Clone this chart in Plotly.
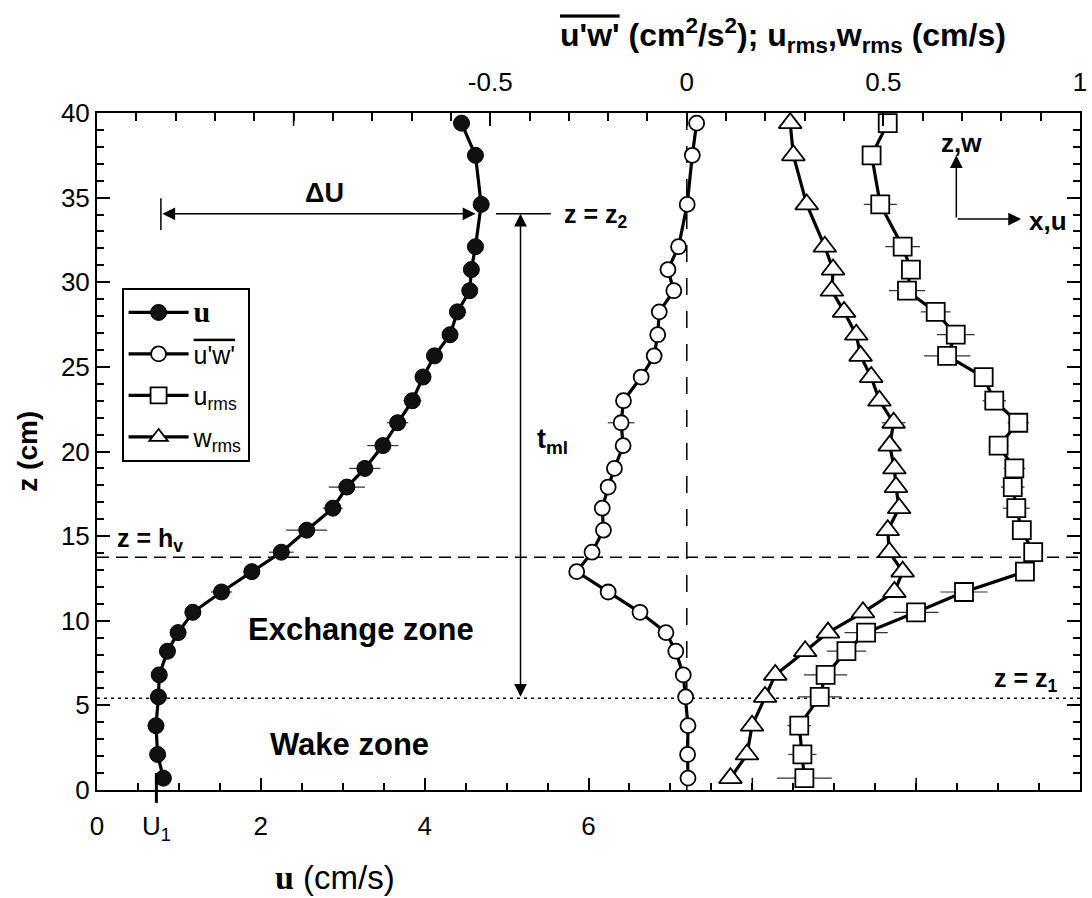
import plotly.graph_objects as go

# ---------------- data ----------------
z_cm = [0.7, 2.1, 3.8, 5.5, 6.8, 8.2, 9.3, 10.5, 11.7, 12.9, 14.05, 15.35, 16.65, 17.9,
        19.0, 20.35, 21.7, 23.0, 24.4, 25.65, 26.9, 28.25, 29.5, 30.75, 32.1, 34.6, 37.5, 39.4]

u_mean = [0.81, 0.74, 0.72, 0.75, 0.76, 0.86, 0.99, 1.17, 1.52, 1.89, 2.25, 2.56, 2.88, 3.05,
          3.27, 3.49, 3.67, 3.85, 3.98, 4.12, 4.31, 4.40, 4.55, 4.57, 4.62, 4.69, 4.62, 4.45]
u_err = [0.04, 0.04, 0.04, 0.04, 0.04, 0.05, 0.06, 0.08, 0.13, 0.09, 0.15, 0.25, 0.12, 0.22,
         0.19, 0.19, 0.13, 0.11, 0.06, 0.06, 0.05, 0.05, 0.04, 0.04, 0.04, 0.04, 0.04, 0.04]

uw_stress = [0.003, 0.002, 0.003, -0.003, -0.009, -0.028, -0.053, -0.119, -0.200, -0.280,
             -0.241, -0.212, -0.215, -0.200, -0.184, -0.162, -0.167, -0.161, -0.116, -0.083,
             -0.074, -0.070, -0.033, -0.048, -0.021, 0.001, 0.014, 0.025]
uw_err = [0.01] * 16 + [0.034] + [0.01] * 11

u_rms = [0.299, 0.294, 0.286, 0.338, 0.353, 0.406, 0.456, 0.583, 0.705, 0.860, 0.881, 0.852,
         0.838, 0.829, 0.833, 0.793, 0.843, 0.782, 0.755, 0.662, 0.684, 0.633, 0.560, 0.570,
         0.549, 0.492, 0.470, 0.511]
u_rms_err = [0.07, 0.036, 0.03, 0.055, 0.055, 0.05, 0.055, 0.057, 0.06, 0.015, 0.02, 0.01,
             0.034, 0.03, 0.027, 0.025, 0.027, 0.03, 0.02, 0.059, 0.048, 0.038, 0.046, 0.02,
             0.044, 0.042, 0.023, 0.02]

w_rms = [0.111, 0.153, 0.166, 0.199, 0.225, 0.301, 0.359, 0.448, 0.528, 0.549, 0.515, 0.511,
         0.540, 0.532, 0.528, 0.516, 0.526, 0.490, 0.469, 0.442, 0.431, 0.400, 0.369, 0.372,
         0.351, 0.305, 0.271, 0.263]
w_rms_err = [0.015] * 12 + [0.02] + [0.015] * 3 + [0.03] + [0.015] * 11

# reference levels / annotations (data units)
z_hv = 13.75
z_1 = 5.42
z_2 = 34.04
U1 = 0.725
u_range = [0, 12]
top_range = [-1.5, 1]
z_range = [0, 40]
bottom_tickvals = [0, U1, 2, 4, 6]
bottom_ticktext = ["0", "U<sub>1</sub>", "2", "4", "6"]
top_tickvals = [-0.5, 0, 0.5, 1]
top_ticktext = ["-0.5", "0", "0.5", "1"]

FONT = "Liberation Sans, Arial, Helvetica, sans-serif"

fig = go.Figure()

line_w = 3.2
fig.add_trace(go.Scatter(
    x=u_mean, y=z_cm, mode="lines+markers", xaxis="x", yaxis="y",
    name="<span style='font-family:Liberation Serif;font-size:30px'><b>u</b></span>",
    line=dict(color="black", width=line_w),
    marker=dict(symbol="circle", size=16, color="#111111", line=dict(color="black", width=1)),
    error_x=dict(type="data", array=u_err, color="#333333", thickness=1.2, width=0),
    legendgroup="a"))
fig.add_trace(go.Scatter(
    x=uw_stress, y=z_cm, mode="lines+markers", xaxis="x2", yaxis="y",
    name="<span style='text-decoration:overline'>u'w'</span>",
    line=dict(color="black", width=line_w),
    marker=dict(symbol="circle", size=15, color="white", line=dict(color="black", width=1.8)),
    error_x=dict(type="data", array=uw_err, color="#333333", thickness=1.2, width=0),
    legendgroup="b"))
fig.add_trace(go.Scatter(
    x=u_rms, y=z_cm, mode="lines+markers", xaxis="x2", yaxis="y",
    name="u<sub>rms</sub>",
    line=dict(color="black", width=line_w),
    marker=dict(symbol="square", size=18, color="white", line=dict(color="black", width=1.8)),
    error_x=dict(type="data", array=u_rms_err, color="#333333", thickness=1.2, width=0),
    legendgroup="c"))
fig.add_trace(go.Scatter(
    x=w_rms, y=z_cm, mode="lines+markers", xaxis="x2", yaxis="y",
    name="w<sub>rms</sub>",
    line=dict(color="black", width=line_w),
    marker=dict(symbol="triangle-up", size=20, color="white", line=dict(color="black", width=1.8)),
    error_x=dict(type="data", array=w_rms_err, color="#333333", thickness=1.2, width=0),
    legendgroup="d"))

# ---------------- guide lines ----------------
shapes = [
    dict(type="line", xref="paper", yref="y", x0=0, x1=1, y0=z_hv, y1=z_hv,
         line=dict(color="black", width=1.5, dash="12px,7px"), layer="below"),
    dict(type="line", xref="paper", yref="y", x0=0, x1=1, y0=z_1, y1=z_1,
         line=dict(color="black", width=1.5, dash="3px,4px"), layer="below"),
    dict(type="line", xref="x2", yref="paper", x0=0, x1=0, y0=0, y1=1,
         line=dict(color="black", width=1.5, dash="17px,16px"), layer="below"),
    # U1 long tick
    dict(type="line", xref="x", yref="paper", x0=U1, x1=U1, y0=-0.019, y1=0.025,
         line=dict(color="black", width=3)),
    # z = z2 short line
    dict(type="line", xref="x", yref="y", x0=4.87, x1=5.54, y0=z_2, y1=z_2,
         line=dict(color="black", width=1.5)),
    # Delta U left bar
    dict(type="line", xref="x", yref="y", x0=0.78, x1=0.78, y0=33.08, y1=34.97,
         line=dict(color="black", width=1.5)),
    # longer top-axis ticks at -1.5 and -1
    dict(type="line", xref="x2", yref="paper", x0=-1, x1=-1, y0=1, y1=0.981,
         line=dict(color="black", width=1.5)),
    # longer bottom-axis ticks at 8, 10
    dict(type="line", xref="x", yref="paper", x0=8, x1=8, y0=0, y1=0.018,
         line=dict(color="black", width=1.5)),
    dict(type="line", xref="x", yref="paper", x0=10, x1=10, y0=0, y1=0.018,
         line=dict(color="black", width=1.5)),
]

ann = []
def txt(text, x, y, size=26, xanchor="center", bold=True, family=FONT, xref="x", yref="y", **kw):
    ann.append(dict(text=("<b>%s</b>" % text) if bold else text, x=x, y=y, xref=xref, yref=yref,
                    showarrow=False, xanchor=xanchor, yanchor="middle",
                    font=dict(family=family, size=size, color="black"), **kw))

def arrow(x, y, ax, ay, both=False):
    ann.append(dict(text="", x=x, y=y, ax=ax, ay=ay, xref="x", yref="y", axref="x", ayref="y",
                    showarrow=True, arrowhead=2, startarrowhead=2, arrowsize=1.7, startarrowsize=1.7,
                    arrowwidth=1.5, arrowcolor="black",
                    arrowside="end+start" if both else "end"))

arrow(4.62, z_2, 0.78, z_2, both=True)          # Delta U
arrow(5.17, z_2, 5.17, z_1, both=True)          # t_ml
arrow(10.49, 37.5, 10.49, 33.73)                # z,w
arrow(11.28, 33.73, 10.49, 33.73)               # x,u

txt("ΔU", 2.78, 35.3, size=27)
txt("z = z<sub>2</sub>", 5.68, 33.9, size=25, xanchor="left")
txt("t<sub>ml</sub>", 5.35, 20.6, size=27, xanchor="left")
txt("z = h<sub>v</sub>", 0.22, 14.75, size=25, xanchor="left")
txt("z = z<sub>1</sub>", 10.93, 6.5, size=25, xanchor="left")
txt("Exchange zone", 3.22, 9.5, size=31)
txt("Wake zone", 3.08, 2.7, size=31)
txt("z,w", 10.55, 38.2, size=26)
txt("x,u", 11.35, 33.6, size=26, xanchor="left")

# axis titles
txt("<span style='font-family:Liberation Serif;font-size:34px'><b>u</b></span> (cm/s)",
    2.15, -0.129, size=33, yref="paper", bold=False, xanchor="left")
txt("<span style='text-decoration:overline'>u'w'</span> (cm<sup>2</sup>/s<sup>2</sup>); "
    "u<sub>rms</sub>,w<sub>rms</sub> (cm/s)", 0.698, 1.115, size=32, xref="paper", yref="paper")
txt("z (cm)", -0.071, 0.5, size=28, xref="paper", yref="paper", textangle=-90)

axis_common = dict(showline=True, linecolor="black", linewidth=2, showgrid=False, zeroline=False,
                   ticks="inside", tickcolor="black", tickwidth=1.5, ticklabeloverflow="allow",
                   tickfont=dict(family=FONT, size=26, color="black"))

fig.update_layout(
    width=1092, height=898,
    margin=dict(l=97, r=5, t=113, b=108),
    paper_bgcolor="white", plot_bgcolor="white",
    font=dict(family=FONT, size=24, color="black"),
    xaxis=dict(range=u_range, tickmode="array", tickvals=bottom_tickvals, ticktext=bottom_ticktext,
               ticklen=12, ticklabelstandoff=12,
               minor=dict(dtick=0.5, tick0=0, ticklen=7, ticks="inside", tickcolor="black", tickwidth=1.5),
               **axis_common),
    xaxis2=dict(range=top_range, overlaying="x", side="top", anchor="y",
                tickmode="array", tickvals=top_tickvals, ticktext=top_ticktext,
                ticklen=13, ticklabelstandoff=10,
                minor=dict(dtick=0.1, tick0=0, ticklen=8, ticks="inside", tickcolor="black", tickwidth=1.5),
                **axis_common),
    yaxis=dict(range=z_range, dtick=5, ticklen=13, mirror="ticks",
               minor=dict(dtick=1, tick0=0, ticklen=7, ticks="inside", tickcolor="black", tickwidth=1.5),
               **axis_common),
    showlegend=True,
    legend=dict(x=0.025, y=0.742, xanchor="left", yanchor="top", bgcolor="white",
                bordercolor="black", borderwidth=2, font=dict(family=FONT, size=25, color="black"),
                tracegroupgap=6, itemwidth=60),
    shapes=shapes, annotations=ann,
)

fig.write_html("out.html", config={"displayModeBar": False},
               post_script="document.body.style.margin='0px';")
